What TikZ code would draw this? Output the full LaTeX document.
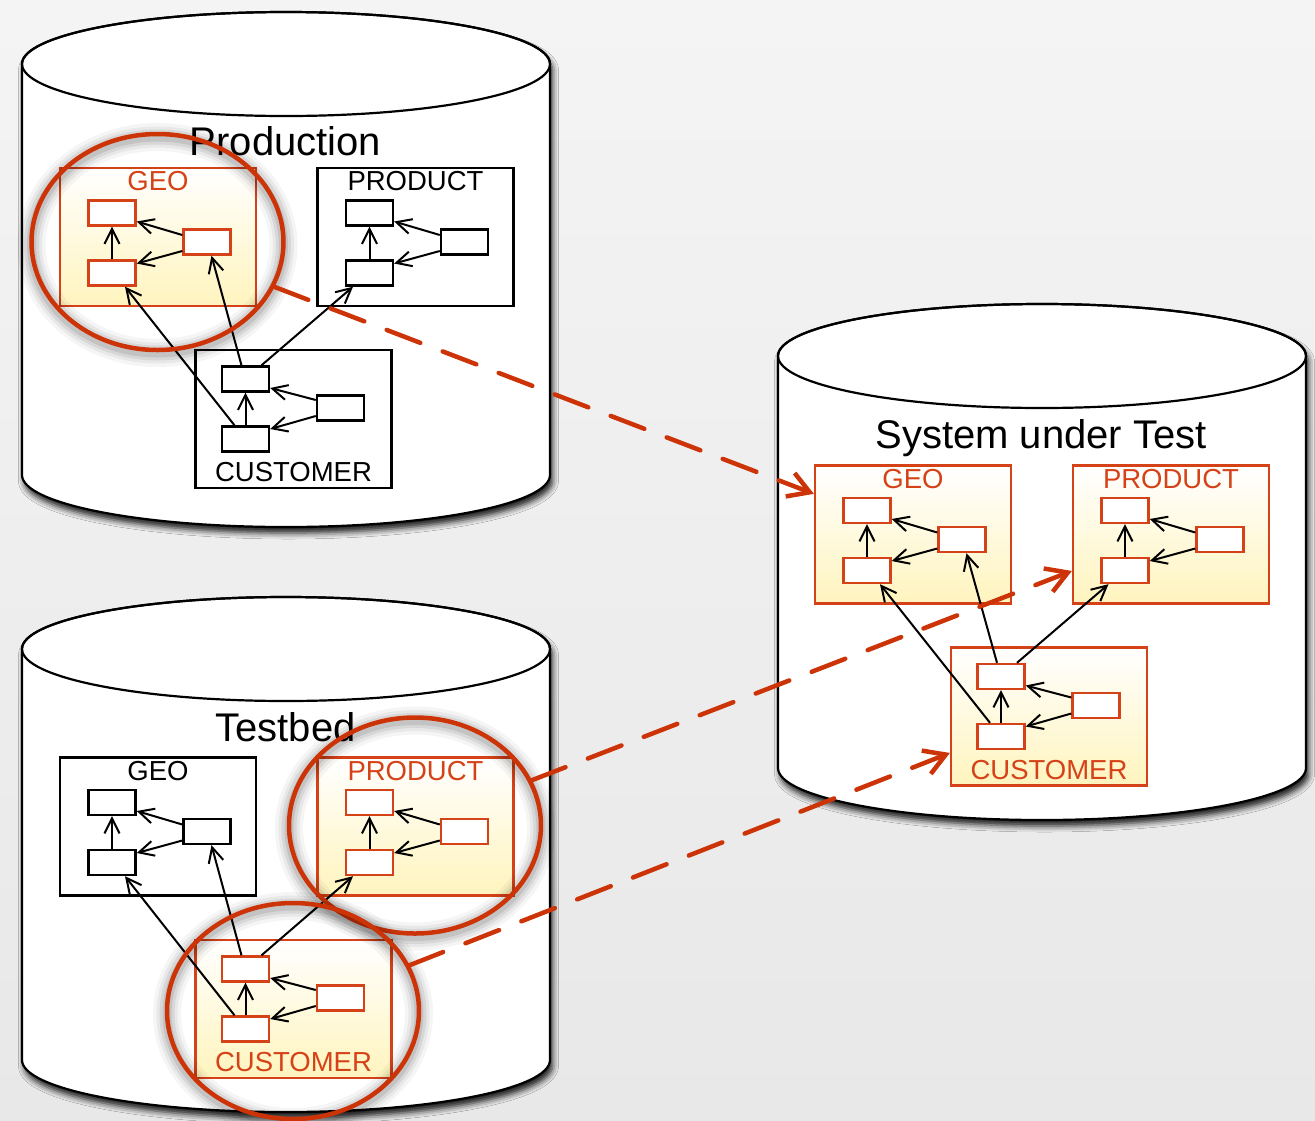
\documentclass[tikz,border=0pt]{standalone}
\usepackage{fontspec}
\setmainfont{Liberation Sans}
\usetikzlibrary{arrows.meta,calc,shapes.geometric,shadows.blur}

\definecolor{hot}{RGB}{204,52,8}
\definecolor{hotbox}{RGB}{214,66,24}
\definecolor{hotfill}{RGB}{255,244,190}
\definecolor{bgtop}{RGB}{244,244,244}
\definecolor{bgbot}{RGB}{232,232,232}

\tikzset{
  cylbody/.style={fill=white, draw=black, line width=2.2pt,
    blur shadow={shadow xshift=2.5pt, shadow yshift=-6pt, shadow blur radius=6pt, shadow opacity=90}},
  cylrim/.style={draw=black, line width=2.2pt},
  dbname/.style={font=\fontsize{40}{44}\selectfont, anchor=base, inner sep=0pt},
  grouphot/.style={draw=hotbox, line width=2.2pt, top color=white, bottom color=hotfill,
    minimum width=196pt, minimum height=138pt, inner sep=0pt},
  groupplain/.style={draw=black, line width=2.2pt, fill=white,
    minimum width=196pt, minimum height=138pt, inner sep=0pt},
  labelhot/.style={text=hotbox, font=\fontsize{27.5}{30}\selectfont, anchor=base, inner sep=0pt},
  labelplain/.style={text=black, font=\fontsize{27.5}{30}\selectfont, anchor=base, inner sep=0pt},
  boxhot/.style={draw=hotbox, line width=2.4pt, fill=white,
    minimum width=47pt, minimum height=25pt, inner sep=0pt},
  boxplain/.style={draw=black, line width=2.4pt, fill=white,
    minimum width=47pt, minimum height=25pt, inner sep=0pt},
  deparrow/.style={draw=black, line width=2pt, -{Straight Barb[length=15pt,width=15pt]}},
  spotring/.style={ellipse, draw=hot, line width=4.5pt, minimum width=252pt,
    minimum height=216pt, inner sep=0pt},
  copyarrow/.style={draw=hot, line width=4.5pt, dash pattern=on 36pt off 24pt,
    line cap=round, -{Straight Barb[length=21pt,width=25pt]}},
}

% database drum: left x, centre y of top rim, centre y of bottom rim
\newcommand\Drum[3]{%
  \path[cylbody] (#1,#2) -- (#1,#3)
    arc[start angle=180, end angle=0, x radius=264, y radius=52]
    -- (#1+528,#2)
    arc[start angle=0, end angle=-180, x radius=264, y radius=52] -- cycle;
  \draw[cylrim] (#1+264,#2) ellipse[x radius=264, y radius=52];
}

% schema with its name on top: name, x, y, variant, title
\newcommand\TopGroup[5]{%
  \node[group#4] (#1) at (#2,#3) {};
  \node[label#4] (#1-name) at ([yshift=-24pt]#1.north) {#5};
  \node[box#4] (#1-a) at ([xshift=-46pt,yshift=24pt]#1.center) {};
  \node[box#4] (#1-b) at ([xshift=-46pt,yshift=-36pt]#1.center) {};
  \node[box#4] (#1-c) at ([xshift=49pt,yshift=-5pt]#1.center) {};
  \draw[deparrow] (#1-b) -- (#1-a);
  \draw[deparrow] ([yshift=7pt]#1-c.west) -- ([yshift=-8.5pt]#1-a.east);
  \draw[deparrow] ([yshift=-9pt]#1-c.west) -- ([yshift=9.5pt]#1-b.east);
}

% schema with its name at the bottom
\newcommand\BottomGroup[5]{%
  \node[group#4] (#1) at (#2,#3) {};
  \node[label#4] (#1-name) at ([yshift=7.5pt]#1.south) {#5};
  \node[box#4] (#1-a) at ([xshift=-48pt,yshift=40pt]#1.center) {};
  \node[box#4] (#1-b) at ([xshift=-48pt,yshift=-20pt]#1.center) {};
  \node[box#4] (#1-c) at ([xshift=47pt,yshift=11pt]#1.center) {};
  \draw[deparrow] (#1-b) -- (#1-a);
  \draw[deparrow] ([yshift=8pt]#1-c.west) -- ([yshift=-9pt]#1-a.east);
  \draw[deparrow] ([yshift=-8pt]#1-c.west) -- ([yshift=10pt]#1-b.east);
}

% foreign keys from CUSTOMER into GEO and PRODUCT
\newcommand\Links[3]{%
  \draw[deparrow] ([xshift=-11pt]#3-b.north) -- ([xshift=13pt]#1-b.south);
  \draw[deparrow] ([xshift=-4pt]#3-a.north) -- ([xshift=4.5pt]#1-c.south);
  \draw[deparrow] ([xshift=16pt]#3-a.north) -- ([xshift=-16.5pt]#2-b.south);
}

% highlight ring with a soft shadow
\newcommand\Spot[3]{%
  \foreach \w/\o in {28/0.04,21/0.05,15/0.07,9/0.09}
    \draw[black, line width=\w pt, opacity=\o] (#2,#3+3) ellipse[x radius=126, y radius=108];
  \node[spotring] (#1) at (#2,#3) {};
}

\begin{document}
\begin{tikzpicture}[x=1pt, y=-1pt]
  \useasboundingbox (0,0) rectangle (1315,1120);
  \fill[top color=bgtop, bottom color=bgbot] (0,0) rectangle (1315,1120);

  % databases
  \Drum{22}{64}{475}
  \Drum{22}{649}{1060}
  \Drum{778}{356}{768}

  \node[dbname] (prod-title) at (285.5,155) {Production};
  \node[dbname] (test-title) at (285.5,741) {Testbed};
  \node[dbname] (sut-title) at (1041,448) {System under Test};

  % Production
  \TopGroup{pg}{158}{237}{hot}{GEO}
  \TopGroup{pp}{415.5}{237}{plain}{PRODUCT}
  \BottomGroup{pc}{293.5}{419}{plain}{CUSTOMER}
  \Links{pg}{pp}{pc}

  % Testbed
  \TopGroup{tg}{158}{826.5}{plain}{GEO}
  \TopGroup{tp}{415.5}{826.5}{hot}{PRODUCT}
  \BottomGroup{tc}{293.5}{1009}{hot}{CUSTOMER}
  \Links{tg}{tp}{tc}

  % System under Test
  \TopGroup{sg}{913}{534.5}{hot}{GEO}
  \TopGroup{sp}{1171}{534.5}{hot}{PRODUCT}
  \BottomGroup{sc}{1049}{716.5}{hot}{CUSTOMER}
  \Links{sg}{sp}{sc}

  % selected schemas
  \Spot{pg-ring}{157.5}{242}
  \Spot{tp-ring}{415}{825.5}
  \Spot{tc-ring}{293}{1011}

  % copies into the system under test
  \coordinate (sg-in) at ($(sg.north west)!0.21!(sg.south west)$);
  \coordinate (sp-in) at ($(sp.north west)!0.76!(sp.south west)$);
  \coordinate (sc-in) at ($(sc.north west)!0.76!(sc.south west)$);
  \draw[copyarrow] (pg-ring) -- (sg-in);
  \draw[copyarrow] (tp-ring) -- (sp-in);
  \draw[copyarrow] (tc-ring) -- (sc-in);
\end{tikzpicture}
\end{document}
